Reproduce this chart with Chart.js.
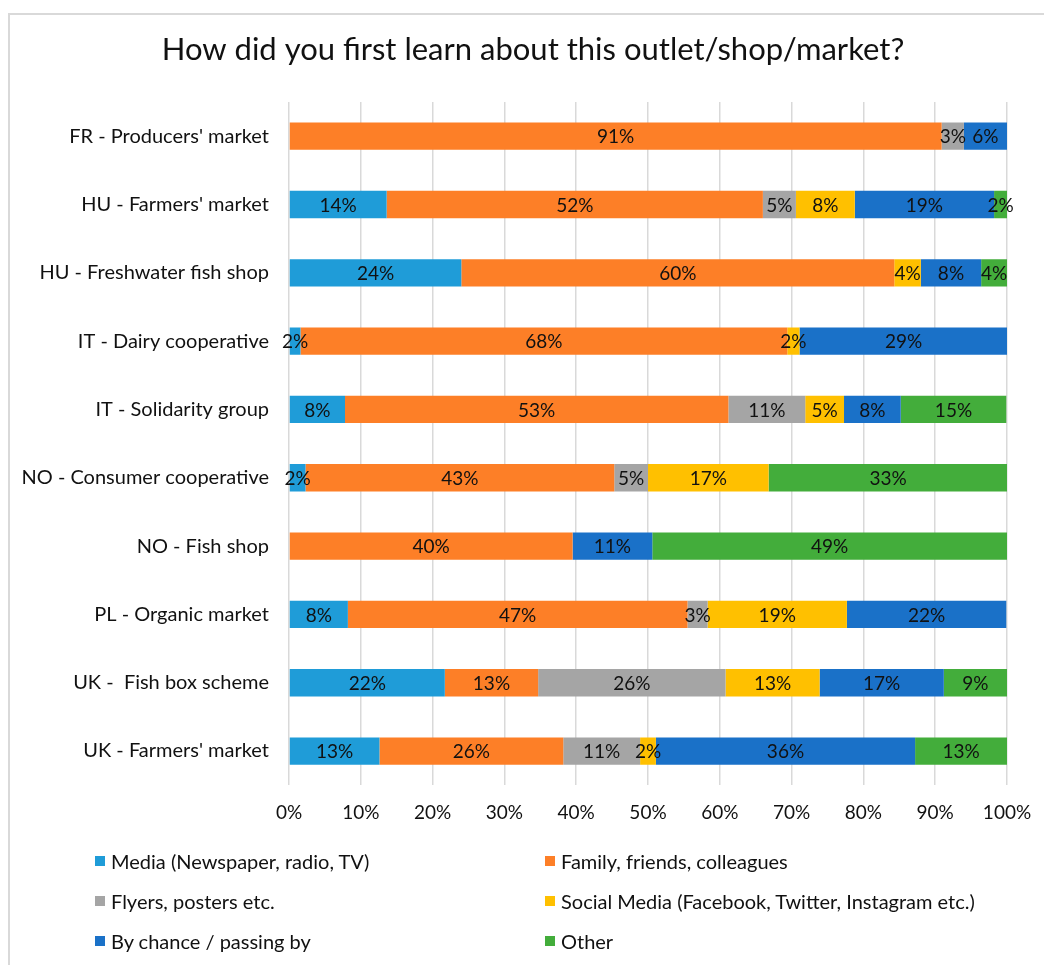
<!DOCTYPE html>
<html>
<head>
<meta charset="utf-8">
<script src="https://cdn.jsdelivr.net/npm/chart.js@4"></script>
<style>
  body { margin: 0; overflow: hidden; background: #fff; font-family: Lato, sans-serif; }
  .frame { position: absolute; left: 8px; top: 13px; width: 1200px; height: 1200px; border-left: 2px solid #d9d9d9; border-top: 2px solid #d9d9d9; }
  .wrap { position: absolute; left: 0; top: 0; width: 1066px; height: 856px; }
  #legend { position: absolute; left: 95px; top: 848px; display: grid; grid-template-columns: 450px 450px; row-gap: 14px; font-size: 20px; color: #111; }
  #legend div { display: flex; align-items: center; height: 26px; }
  #legend span { display: inline-block; width: 10px; height: 10px; margin-right: 6px; }
</style>
</head>
<body>
<div class="frame"></div>
<div class="wrap"><canvas id="chart"></canvas></div>
<div id="legend"></div>
<script>
const chartTitle = 'How did you first learn about this outlet/shop/market?';

const categories = [
  "FR - Producers' market",
  "HU - Farmers' market",
  "HU - Freshwater fish shop",
  "IT - Dairy cooperative",
  "IT - Solidarity group",
  "NO - Consumer cooperative",
  "NO - Fish shop",
  "PL - Organic market",
  "UK -  Fish box scheme",
  "UK - Farmers' market"
];

const seriesNames = [
  'Media (Newspaper, radio, TV)',
  'Family, friends, colleagues',
  'Flyers, posters etc.',
  'Social Media (Facebook, Twitter, Instagram etc.)',
  'By chance / passing by',
  'Other'
];

const media    = [0,    13.6, 24.0, 1.6,  7.8,  2.3,  0,    8.2,  21.7, 12.6];
const family   = [90.9, 52.4, 60.3, 67.8, 53.4, 43.0, 39.5, 47.3, 13.0, 25.6];
const flyers   = [3.1,  4.6,  0,    0,    10.7, 4.7,  0,    2.8,  26.1, 10.7];
const social   = [0,    8.2,  3.7,  1.7,  5.4,  16.8, 0,    19.4, 13.1, 2.2];
const byChance = [6.0,  19.4, 8.4,  29.0, 7.9,  0,    11.1, 22.2, 17.3, 36.1];
const other    = [0,    1.8,  3.6,  0,    14.7, 33.3, 49.4, 0,    8.8,  12.8];

const colors = ['#1f9cd8', '#fd7f27', '#a5a5a5', '#ffc000', '#1a71c8', '#43ad3b'];

const xTicks = [0, 10, 20, 30, 40, 50, 60, 70, 80, 90, 100];

const allSeries = [media, family, flyers, social, byChance, other];

// segment value labels + title centred on the whole (wider) chart frame
const labelPlugin = {
  id: 'segLabels',
  afterDatasetsDraw(chart) {
    const ctx = chart.ctx;
    ctx.save();
    ctx.font = '19px Lato';
    ctx.fillStyle = '#111';
    ctx.textAlign = 'center';
    ctx.textBaseline = 'middle';
    chart.data.datasets.forEach((ds, i) => {
      chart.getDatasetMeta(i).data.forEach((bar, j) => {
        const v = ds.data[j];
        if (!v) return;
        const p = bar.getCenterPoint();
        ctx.fillText(Math.round(v) + '%', p.x, p.y + 1);
      });
    });
    ctx.font = '31px Lato';
    ctx.fillText(chartTitle, chart.width / 2, 50);
    ctx.restore();
  }
};

const chart = new Chart(document.getElementById('chart'), {
  type: 'bar',
  data: {
    labels: categories,
    datasets: allSeries.map((d, i) => ({
      label: seriesNames[i],
      data: d,
      backgroundColor: colors[i],
      borderWidth: 0,
      barPercentage: 0.4,
      categoryPercentage: 1
    }))
  },
  options: {
    indexAxis: 'y',
    responsive: true,
    maintainAspectRatio: false,
    animation: false,
    layout: { padding: { left: 0, right: 59, top: 102, bottom: 16 } },
    plugins: {
      legend: { display: false },
      tooltip: { enabled: false },
      title: { display: false }
    },
    scales: {
      x: {
        stacked: true,
        min: 0,
        max: 100,
        afterBuildTicks: (s) => { s.ticks = xTicks.map(v => ({ value: v })); },
        grid: { color: '#d9d9d9', lineWidth: 1.5, drawTicks: false },
        border: { display: false },
        ticks: {
          color: '#111',
          padding: 16,
          font: { family: 'Lato', size: 19 },
          callback: (v) => v + '%'
        }
      },
      y: {
        stacked: true,
        afterFit: (s) => { s.width = 289; },
        grid: { display: false, drawTicks: false },
        border: { display: false },
        ticks: {
          color: '#111',
          padding: 20,
          font: { family: 'Lato', size: 20 }
        }
      }
    }
  },
  plugins: [labelPlugin]
});

const legend = document.getElementById('legend');
seriesNames.forEach((name, i) => {
  const item = document.createElement('div');
  const box = document.createElement('span');
  box.style.background = colors[i];
  item.appendChild(box);
  item.appendChild(document.createTextNode(name));
  legend.appendChild(item);
});
</script>
</body>
</html>
